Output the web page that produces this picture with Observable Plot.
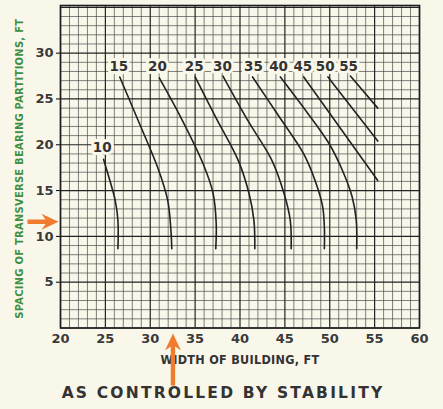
<!DOCTYPE html>
<html>
<head>
<meta charset="utf-8">
<script src="https://cdn.jsdelivr.net/npm/d3@7"></script>
<script src="https://cdn.jsdelivr.net/npm/@observablehq/plot@0.6"></script>
<style>
  html, body { margin: 0; padding: 0; background: #f9f7ea; }
  #chart svg { display: block; overflow: visible; }
  #chart g[aria-label^="x-axis"] text, #chart g[aria-label^="y-axis"] text {
    font-weight: bold; font-family: "DejaVu Sans", sans-serif; font-size: 13px; fill: #3a3a3a;
  }
</style>
</head>
<body>
<div id="chart"></div>
<script>
// Tick labels
const xTicks = [20, 25, 30, 35, 40, 45, 50, 55, 60];
const yTicks = [5, 10, 15, 20, 25, 30];
// Grid lines (every 1 ft)
const gridX = d3.range(20, 61);
const gridY = d3.range(0, 36);

// Curves: [width of building, spacing of partitions]
const curveLabels = [10, 15, 20, 25, 30, 35, 40, 45, 50, 55];
const c10 = [[24.8,18.4],[25.5,16.1],[26.1,13.9],[26.4,11.7],[26.4,8.65]];
const c15 = [[26.6,27.4],[28.5,23.0],[30.95,17.2],[31.95,13.9],[32.3,10.7],[32.4,8.65]];
const c20 = [[31.0,27.3],[33.4,23.0],[35.9,17.9],[37.0,14.7],[37.35,11.4],[37.3,8.65]];
const c25 = [[35.0,27.4],[37.3,23.0],[39.8,18.3],[41.0,14.7],[41.55,11.75],[41.65,8.65]];
const c30 = [[38.1,27.5],[40.9,22.6],[43.5,18.4],[44.9,14.7],[45.6,11.75],[45.7,8.65]];
const c35 = [[41.4,27.4],[44.2,23.3],[47.1,19.0],[48.4,16.0],[49.2,13.3],[49.4,11.0],[49.4,8.65]];
const c40 = [[44.5,27.4],[47.5,23.5],[50.0,20.0],[51.5,17.0],[52.5,14.3],[52.95,11.8],[53.0,8.65]];
const c45 = [[47.1,27.4],[55.35,16.1]];
const c50 = [[49.8,27.4],[55.35,20.4]];
const c55 = [[52.3,27.5],[55.35,24.0]];
const curves = [c10, c15, c20, c25, c30, c35, c40, c45, c50, c55];

// Curve label positions
const labelX = [24.65, 26.5, 30.8, 34.9, 38.05, 41.5, 44.3, 47.0, 49.5, 52.1];
const labelY = [19.7, 28.5, 28.5, 28.5, 28.5, 28.5, 28.5, 28.5, 28.5, 28.5];

// Orange marker arrows (tail positions)
const arrowX = [16.32, 32.53];
const arrowY = [11.6, -6.28];
const arrowDir = [90, 0];

const title = "AS CONTROLLED BY STABILITY";
const xLabel = "WIDTH OF BUILDING, FT";
const yLabel = "SPACING OF TRANSVERSE BEARING PARTITIONS, FT";

const lineRows = curves.flatMap((c, i) => c.map(([x, y]) => ({x, y, k: curveLabels[i]})));
const labelRows = curveLabels.map((k, i) => ({k, x: labelX[i], y: labelY[i]}));
const arrowRows = arrowX.map((x, i) => ({x, y: arrowY[i], r: arrowDir[i]}));

const bg = "#f9f7ea";
const orange = "#f07b2e";
const arrowShape = {
  draw(ctx, l) {
    const sw = 2.2, hw = 8, hl = 17, notch = 4;
    ctx.moveTo(-sw, 0);
    ctx.lineTo(-sw, -l + hl - notch);
    ctx.lineTo(-hw, -l + hl);
    ctx.lineTo(0, -l);
    ctx.lineTo(hw, -l + hl);
    ctx.lineTo(sw, -l + hl - notch);
    ctx.lineTo(sw, 0);
    ctx.closePath();
  }
};

const chart = Plot.plot({
  width: 443,
  height: 409,
  marginLeft: 60,
  marginRight: 24,
  marginTop: 5,
  marginBottom: 81.5,
  style: {background: bg, fontFamily: "DejaVu Sans, sans-serif"},
  x: {domain: [20, 60], ticks: xTicks, tickSize: 0, tickPadding: 6, label: null},
  y: {domain: [0, 35.2], ticks: yTicks, tickSize: 4, tickPadding: 3, label: null},
  marks: [
    Plot.ruleX(gridX.filter(d => d % 5 !== 0), {stroke: "#4a4a4a", strokeWidth: 0.7}),
    Plot.ruleY(gridY.filter(d => d % 5 !== 0), {stroke: "#4a4a4a", strokeWidth: 0.7}),
    Plot.ruleX(gridX.filter(d => d % 5 === 0), {stroke: "#222", strokeWidth: 1.2}),
    Plot.ruleY(gridY.filter(d => d % 5 === 0), {stroke: "#222", strokeWidth: 1.2}),
    Plot.frame({stroke: "#1e1e1e", strokeWidth: 1.6}),
    Plot.line(lineRows, {x: "x", y: "y", z: "k", curve: "catmull-rom", stroke: "#222", strokeWidth: 1.6}),
    Plot.text(labelRows, {x: "x", y: "y", text: d => String(d.k), fontSize: 13.5, fontWeight: "bold",
      fill: "#333", stroke: bg, strokeWidth: 6, paintOrder: "stroke", fontFamily: "DejaVu Sans, sans-serif"}),
    Plot.text([yLabel], {frameAnchor: "left", textAnchor: "middle", dx: -41, dy: 2, rotate: -90, text: d => d, fill: "#3f8f3f",
      fontWeight: "bold", fontSize: 11, fontFamily: "DejaVu Sans Condensed, DejaVu Sans, sans-serif"}),
    Plot.text([xLabel], {frameAnchor: "bottom", dy: 35.5, text: d => d, fill: "#333",
      fontWeight: "bold", fontSize: 12.5, fontFamily: "DejaVu Sans Condensed, DejaVu Sans, sans-serif"}),
    Plot.text([title], {frameAnchor: "bottom", dx: -17, dy: 69.5, text: d => d, fill: "#333",
      fontWeight: "bold", fontSize: 15.5, fontFamily: "DejaVu Sans, sans-serif"}),
    Plot.vector(arrowRows.slice(0, 1), {x: "x", y: "y", rotate: "r", length: 31, anchor: "start",
      shape: arrowShape, fill: orange, stroke: "none"}),
    Plot.vector(arrowRows.slice(1, 2), {x: "x", y: "y", rotate: "r", length: 52, anchor: "start",
      shape: arrowShape, fill: orange, stroke: "none"})
  ]
});
// letter spacing for the label texts
const spacing = new Map([[title, "2.2px"], [xLabel, "0.3px"], [yLabel, "0.3px"]]);
d3.select(chart).selectAll("text").each(function() {
  const s = spacing.get(this.textContent);
  if (s) d3.select(this).style("letter-spacing", s);
});
document.getElementById("chart").appendChild(chart);
</script>
</body>
</html>
